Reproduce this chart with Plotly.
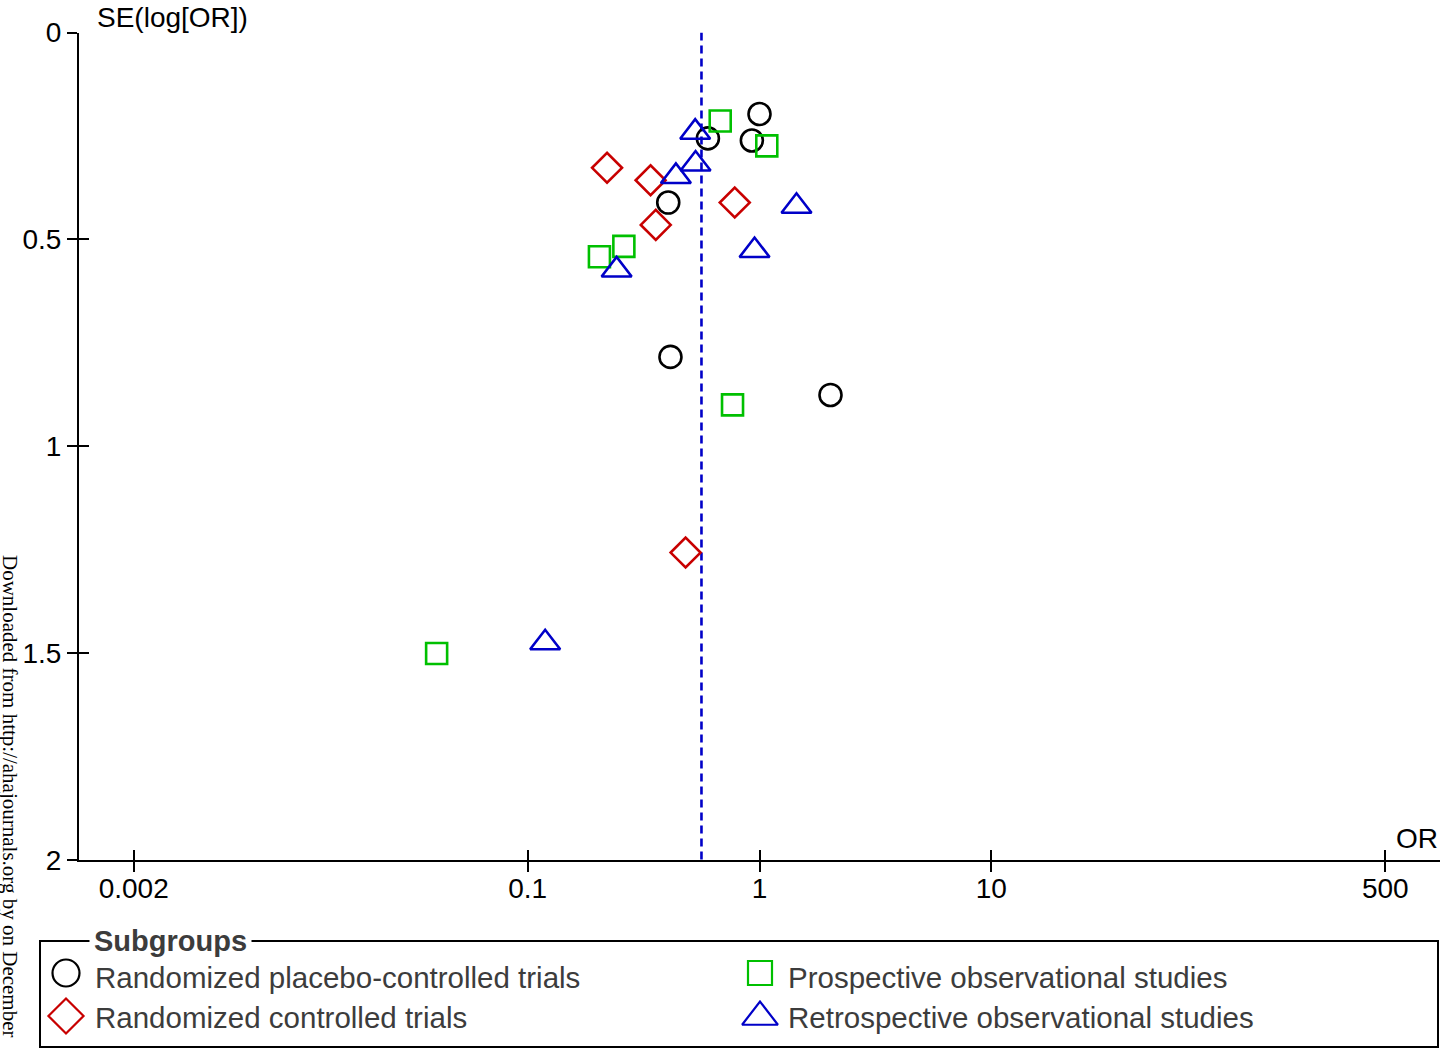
import plotly.graph_objects as go

W, H = 1440, 1050

# ---------------- data ----------------
placebo_or = [1.000, 0.599, 0.927, 0.404, 0.413, 2.024]
placebo_se = [0.197, 0.256, 0.261, 0.411, 0.784, 0.876]

rct_or = [0.220, 0.339, 0.357, 0.782, 0.480]
rct_se = [0.327, 0.357, 0.465, 0.411, 1.257]

prosp_or = [0.677, 1.075, 0.260, 0.204, 0.765, 0.0405]
prosp_se = [0.214, 0.274, 0.517, 0.542, 0.900, 1.501]

retro_or = [0.528, 0.530, 0.436, 1.444, 0.952, 0.242, 0.119]
retro_se = [0.241, 0.318, 0.348, 0.420, 0.527, 0.574, 1.475]

pooled_or = 0.562
se_limits = [0, 2]

x_tickvals = [0.002, 0.1, 1, 10, 500]
x_ticktext = ["0.002", "0.1", "1", "10", "500"]
y_tickvals = [0, 0.5, 1, 1.5, 2]
y_ticktext = ["0", "0.5", "1", "1.5", "2"]

legend_labels = ["Randomized placebo-controlled trials", "Randomized controlled trials",
                 "Prospective observational studies", "Retrospective observational studies"]

# ---------------- styling ----------------
FONT = "Liberation Sans, Arial, sans-serif"
C_BLACK = "#000000"
C_RED = "#c80000"
C_GREEN = "#00c000"
C_BLUE = "#0000c8"
LEG_TXT = "#3c3c3c"

def px_x(p):
    return p / W

def px_y(p):
    return 1 - p / H

X_DOM = [79 / W, 1.0]
Y_DOM = [1 - 860 / H, 1 - 32.5 / H]
XRANGE = [-2.935, 2.935]

fig = go.Figure()

def add_group(xs, ys, symbol, color, size):
    fig.add_trace(go.Scatter(
        x=xs, y=ys, mode="markers", showlegend=False, hoverinfo="x+y",
        marker=dict(symbol=symbol, size=size, color=color,
                    line=dict(color=color, width=2.6)),
        xaxis="x", yaxis="y"))

# pooled estimate (dashed)
fig.add_trace(go.Scatter(
    x=[pooled_or, pooled_or], y=se_limits, mode="lines", showlegend=False,
    hoverinfo="skip", line=dict(color=C_BLUE, width=2.6, dash="8px,5px"),
    xaxis="x", yaxis="y"))

add_group(placebo_or, placebo_se, "circle-open", C_BLACK, 22)
add_group(rct_or, rct_se, "diamond-open", C_RED, 23)
add_group(prosp_or, prosp_se, "square-open", C_GREEN, 21)
add_group(retro_or, retro_se, "triangle-up-open", C_BLUE, 26)

# invisible traces hosting the overlay axes (inside half of the crossing ticks)
fig.add_trace(go.Scatter(x=[1], y=[1], mode="markers", marker=dict(opacity=0),
                         hoverinfo="skip", showlegend=False, xaxis="x2", yaxis="y"))
fig.add_trace(go.Scatter(x=[1], y=[1], mode="markers", marker=dict(opacity=0),
                         hoverinfo="skip", showlegend=False, xaxis="x", yaxis="y2"))

# legend keys on a full-canvas pixel axis
leg_keys = [
    (66, 973, "circle-open", C_BLACK, 27),
    (66, 1016, "diamond-open", C_RED, 27),
    (760, 973, "square-open", C_GREEN, 24),
    (760, 1017, "triangle-up-open", C_BLUE, 31),
]
for kx, ky, sym, col, sz in leg_keys:
    fig.add_trace(go.Scatter(
        x=[kx], y=[ky], mode="markers", showlegend=False, hoverinfo="skip",
        marker=dict(symbol=sym, size=sz, color=col, line=dict(color=col, width=2.2)),
        xaxis="x3", yaxis="y3"))

axis_common = dict(showgrid=False, zeroline=False, ticklen=10, tickwidth=2,
                   tickcolor="black", linecolor="black", linewidth=2, automargin=False,
                   tickfont=dict(family=FONT, size=28, color="black"))

fig.update_layout(
    width=W, height=H, autosize=False,
    margin=dict(l=0, r=0, t=0, b=0, pad=0, autoexpand=False),
    paper_bgcolor="white", plot_bgcolor="rgba(0,0,0,0)",
    showlegend=False,
    xaxis=dict(type="log", range=XRANGE, domain=X_DOM, anchor="y",
               tickmode="array", tickvals=x_tickvals, ticktext=x_ticktext,
               ticks="outside", showline=True, ticklabelstandoff=-8, **axis_common),
    yaxis=dict(range=[2, 0], domain=Y_DOM, anchor="x",
               tickmode="array", tickvals=y_tickvals, ticktext=y_ticktext,
               ticks="outside", showline=True, **axis_common),
    xaxis2=dict(type="log", range=XRANGE, overlaying="x", anchor="y", side="bottom",
                tickmode="array", tickvals=x_tickvals, ticks="inside", automargin=False,
                showticklabels=False, showline=False, showgrid=False, zeroline=False,
                ticklen=10, tickwidth=2, tickcolor="black"),
    yaxis2=dict(range=[2, 0], overlaying="y", anchor="x", side="left",
                tickmode="array", tickvals=y_tickvals, ticks="inside", automargin=False,
                showticklabels=False, showline=False, showgrid=False, zeroline=False,
                ticklen=10, tickwidth=2, tickcolor="black"),
    xaxis3=dict(range=[0, W], domain=[0, 1], anchor="y3", visible=False, fixedrange=True),
    yaxis3=dict(range=[H, 0], domain=[0, 1], anchor="x3", visible=False, fixedrange=True),
)

shapes = [
    dict(type="rect", xref="paper", yref="paper",
         x0=px_x(40), x1=px_x(1438), y0=px_y(1047), y1=px_y(941),
         line=dict(color="black", width=2), fillcolor="rgba(0,0,0,0)"),
]
fig.update_layout(shapes=shapes)

ann = [
    dict(text="SE(log[OR])", x=px_x(95), y=px_y(17), xref="paper", yref="paper",
         xanchor="left", yanchor="middle", showarrow=False,
         font=dict(family=FONT, size=28, color="black")),
    dict(text="OR", x=1.0, y=px_y(838), xref="paper", yref="paper",
         xanchor="right", yanchor="middle", showarrow=False,
         font=dict(family=FONT, size=28, color="black")),
    dict(text="<b>Subgroups</b>", x=px_x(89), y=px_y(941), xref="paper", yref="paper",
         xanchor="left", yanchor="middle", showarrow=False, bgcolor="white", borderpad=4,
         font=dict(family=FONT, size=29, color=LEG_TXT)),
    dict(text=legend_labels[0], x=px_x(93), y=px_y(977), xref="paper", yref="paper",
         xanchor="left", yanchor="middle", showarrow=False,
         font=dict(family=FONT, size=29.5, color=LEG_TXT)),
    dict(text=legend_labels[1], x=px_x(93), y=px_y(1017), xref="paper", yref="paper",
         xanchor="left", yanchor="middle", showarrow=False,
         font=dict(family=FONT, size=29.5, color=LEG_TXT)),
    dict(text=legend_labels[2], x=px_x(786), y=px_y(977), xref="paper", yref="paper",
         xanchor="left", yanchor="middle", showarrow=False,
         font=dict(family=FONT, size=29.5, color=LEG_TXT)),
    dict(text=legend_labels[3], x=px_x(786), y=px_y(1017), xref="paper", yref="paper",
         xanchor="left", yanchor="middle", showarrow=False,
         font=dict(family=FONT, size=29.5, color=LEG_TXT)),
    dict(text="Downloaded from http://ahajournals.org by on December",
         x=px_x(10), y=px_y(796), xref="paper", yref="paper",
         xanchor="center", yanchor="middle", textangle=90, showarrow=False,
         font=dict(family="Liberation Serif, Times New Roman, serif", size=21, color="black")),
]
fig.update_layout(annotations=ann)

fig.write_html(
    "out.html",
    config={"displayModeBar": False},
    post_script="document.body.style.margin='0';document.body.style.padding='0';"
                "document.body.style.overflow='hidden';"
                "document.documentElement.style.overflow='hidden';",
)
